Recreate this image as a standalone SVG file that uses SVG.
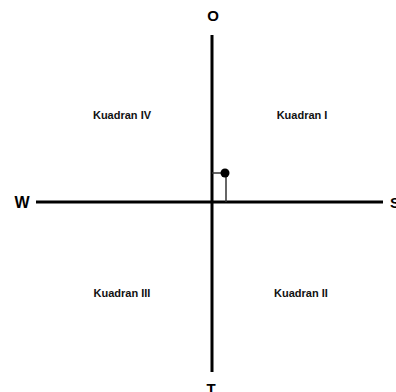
<svg xmlns="http://www.w3.org/2000/svg" width="396" height="392" viewBox="0 0 396 392">
<style>
.axis{stroke:#000;stroke-width:3;fill:none}
.thin{stroke:#333;stroke-width:1.5;fill:none}
.dir{font-family:"Liberation Sans",Arial,sans-serif;font-weight:bold;font-size:15px;fill:#000;text-anchor:middle}
.q{font-family:"Liberation Sans",Arial,sans-serif;font-weight:bold;font-size:11px;fill:#111;text-anchor:middle}
</style>
<rect width="396" height="392" fill="#fff"/>
<g id="connectors">
<line class="axis" x1="212" y1="35" x2="212" y2="372"/>
<line class="axis" x1="36" y1="202" x2="383" y2="202"/>
<line class="thin" x1="212" y1="173" x2="225" y2="173"/>
<line class="thin" x1="226" y1="173" x2="226" y2="202"/>
</g>
<g id="dot"><circle cx="225" cy="173" r="4.5" fill="#000"/></g>
<g id="O"><text class="dir" x="213" y="21">O</text></g>
<g id="W"><text class="dir" x="22" y="208" style="font-size:16px">W</text></g>
<g id="S"><text class="dir" x="395" y="208">S</text></g>
<g id="T"><text class="dir" x="211" y="394">T</text></g>
<g id="q4"><text class="q" x="122" y="119">Kuadran IV</text></g>
<g id="q1"><text class="q" x="302" y="119">Kuadran I</text></g>
<g id="q3"><text class="q" x="122" y="297">Kuadran III</text></g>
<g id="q2"><text class="q" x="301" y="297">Kuadran II</text></g>
</svg>
